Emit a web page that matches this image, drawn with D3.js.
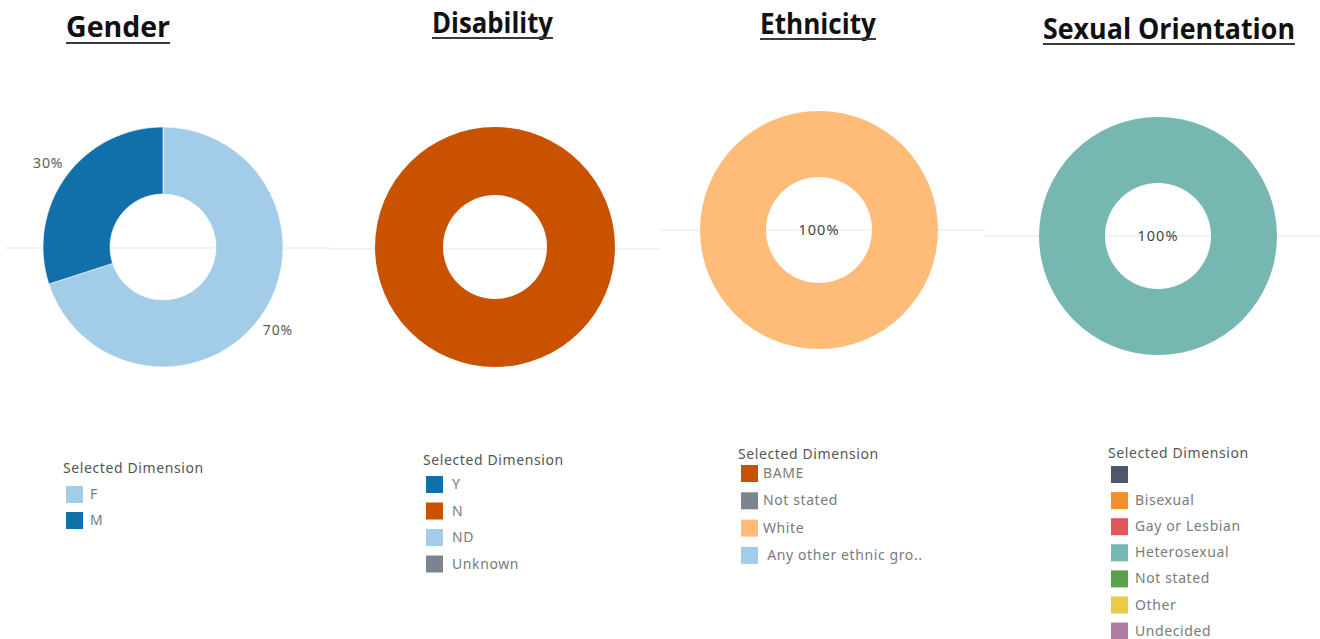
<!DOCTYPE html>
<html>
<head>
<meta charset="utf-8">
<script src="https://cdn.jsdelivr.net/npm/d3@7"></script>
<style>
  html, body { margin: 0; padding: 0; background: #fff; }
  svg { display: block; }
  text { white-space: pre; }
</style>
</head>
<body>
<svg id="chart" width="1320" height="639"></svg>
<script>
// ---------- DATA ----------
const chartTitles = ["Gender", "Disability", "Ethnicity", "Sexual Orientation"];
const legendTitle = "Selected Dimension";

const genderCats = ["F", "M"];
const genderVals = [70, 30];
const genderColors = ["#a3cce9", "#1170aa"];

const disabilityCats = ["Y", "N", "ND", "Unknown"];
const disabilityVals = [0, 100, 0, 0];
const disabilityColors = ["#1170aa", "#c85200", "#a3cce9", "#7b848f"];

const ethnicityCats = ["BAME", "Not stated", "White", " Any other ethnic gro.."];
const ethnicityVals = [0, 0, 100, 0];
const ethnicityColors = ["#c85200", "#7b848f", "#ffbc79", "#a3cce9"];

const sexualCats = ["", "Bisexual", "Gay or Lesbian", "Heterosexual", "Not stated", "Other", "Undecided"];
const sexualVals = [0, 0, 0, 100, 0, 0, 0];
const sexualColors = ["#4f5868", "#f28e2b", "#e15759", "#76b7b2", "#59a14f", "#edc948", "#b07aa1"];

// ---------- LAYOUT ----------
const panels = [
  { cats: genderCats, vals: genderVals, colors: genderColors, labelMode: "outside",
    cx: 163, cy: 247, rOut: 120, rIn: 53, lineY: 248, lineX: [5, 330],
    title: { x: 66, y: 37, w: 104, uy: 43 },
    legend: { x: 63, ty: 473, sy: 486, step: 26, tx: 90 } },
  { cats: disabilityCats, vals: disabilityVals, colors: disabilityColors, labelMode: "none",
    cx: 495, cy: 247, rOut: 120, rIn: 52, lineY: 249, lineX: [330, 660],
    title: { x: 432, y: 33, w: 121, uy: 38 },
    legend: { x: 423, ty: 465, sy: 476, step: 26.5, tx: 452 } },
  { cats: ethnicityCats, vals: ethnicityVals, colors: ethnicityColors, labelMode: "center",
    cx: 819, cy: 230, rOut: 119, rIn: 53, lineY: 230, lineX: [660, 985],
    title: { x: 760, y: 34, w: 116, uy: 39 },
    legend: { x: 738, ty: 459, sy: 465, step: 27.3, tx: 763 } },
  { cats: sexualCats, vals: sexualVals, colors: sexualColors, labelMode: "center",
    cx: 1158, cy: 236, rOut: 119, rIn: 53, lineY: 236, lineX: [985, 1320],
    title: { x: 1043, y: 39, w: 252, uy: 44 },
    legend: { x: 1108, ty: 458, sy: 466, step: 26.1, tx: 1135 } }
];

const svg = d3.select("#chart");

panels.forEach((p, i) => {
  // faint background rule
  svg.append("line")
    .attr("x1", p.lineX[0]).attr("x2", p.lineX[1])
    .attr("y1", p.lineY).attr("y2", p.lineY)
    .attr("stroke", "#efefef").attr("stroke-width", 1.5);

  // title
  svg.append("text")
    .attr("x", p.title.x).attr("y", p.title.y)
    .attr("textLength", p.title.w).attr("lengthAdjust", "spacingAndGlyphs")
    .attr("font-family", "'Open Sans', sans-serif")
    .attr("font-weight", 700).attr("font-size", 28)
    .attr("fill", "#111")
    .text(chartTitles[i]);
  svg.append("line")
    .attr("x1", p.title.x).attr("x2", p.title.x + p.title.w)
    .attr("y1", p.title.uy).attr("y2", p.title.uy)
    .attr("stroke", "#3a3a3a").attr("stroke-width", 2.2);

  // donut
  const color = d3.scaleOrdinal().domain(p.cats).range(p.colors);
  const data = p.cats.map((c, k) => ({ cat: c, val: p.vals[k] }));
  const pie = d3.pie().sort(null).value(d => d.val);
  const arcs = pie(data).filter(a => a.data.val > 0);
  const arc = d3.arc().innerRadius(p.rIn).outerRadius(p.rOut);
  const g = svg.append("g").attr("transform", `translate(${p.cx},${p.cy})`);
  g.selectAll("path").data(arcs).enter().append("path")
    .attr("d", arc)
    .attr("fill", d => color(d.data.cat))
    .attr("stroke", "#fff").attr("stroke-width", arcs.length > 1 ? 0.6 : 0);

  const total = d3.sum(p.vals);
  const fmt = v => Math.round(v / total * 100) + "%";
  if (p.labelMode === "outside") {
    const labelArc = d3.arc().innerRadius(p.rOut + 22).outerRadius(p.rOut + 22);
    g.selectAll("text.pct").data(arcs).enter().append("text")
      .attr("class", "pct")
      .attr("transform", d => `translate(${labelArc.centroid(d)})`)
      .attr("text-anchor", "middle").attr("dy", "0.35em")
      .attr("font-family", "'Noto Sans', sans-serif").attr("font-size", 14)
      .attr("letter-spacing", 0.8)
      .attr("fill", "#5a5a5a")
      .text(d => fmt(d.data.val));
  } else if (p.labelMode === "center") {
    g.selectAll("text.pct").data(arcs).enter().append("text")
      .attr("class", "pct")
      .attr("text-anchor", "middle").attr("dy", "0.35em")
      .attr("font-family", "'Noto Sans', sans-serif").attr("font-size", 14.5)
      .attr("letter-spacing", 1)
      .attr("fill", "#444")
      .text(d => fmt(d.data.val));
  }

  // legend
  const L = p.legend;
  const lg = svg.append("g");
  lg.append("text")
    .attr("x", L.x).attr("y", L.ty)
    .attr("font-family", "'Noto Sans', sans-serif").attr("font-size", 14)
    .attr("letter-spacing", 0.6)
    .attr("fill", "#555")
    .text(legendTitle);
  const items = lg.selectAll("g.item").data(p.cats).enter().append("g")
    .attr("class", "item")
    .attr("transform", (d, k) => `translate(0,${L.sy + k * L.step})`);
  items.append("rect")
    .attr("x", L.x + 3).attr("y", 0)
    .attr("width", 17).attr("height", 17)
    .attr("fill", d => color(d));
  items.append("text")
    .attr("x", L.tx).attr("y", 13)
    .attr("font-family", "'Noto Sans', sans-serif").attr("font-size", 14)
    .attr("letter-spacing", 0.6)
    .attr("fill", "#7a7a7a")
    .text(d => d);
});
</script>
</body>
</html>
